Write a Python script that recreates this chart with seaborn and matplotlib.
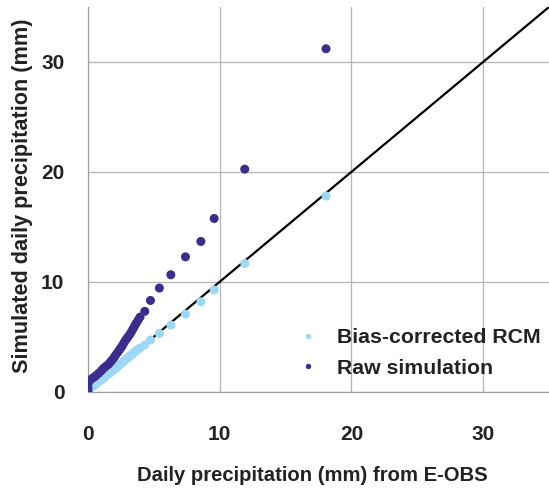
import matplotlib
matplotlib.use("Agg")
import matplotlib.pyplot as plt
import seaborn as sns
import pandas as pd

# E-OBS quantiles (shared x for both series)
obs = [0.0, 0.0, 0.0, 0.05, 0.2, 0.4, 0.6, 0.8, 1.0, 1.17, 1.35, 1.55, 1.7, 1.83,
       1.97, 2.1, 2.25, 2.38, 2.5, 2.61, 2.73, 2.86, 3.0, 3.14, 3.27, 3.4, 3.52,
       3.65, 3.8, 3.95, 4.31, 4.74, 5.42, 6.29, 7.4, 8.57, 9.58, 11.9, 18.07]
raw = [0.0, 0.3, 0.7, 1.0, 1.1, 1.28, 1.45, 1.67, 1.9, 2.12, 2.3, 2.49, 2.7, 2.88,
       3.1, 3.34, 3.57, 3.79, 4.0, 4.19, 4.45, 4.7, 4.93, 5.15, 5.4, 5.67, 5.95,
       6.21, 6.5, 6.79, 7.31, 8.3, 9.43, 10.64, 12.27, 13.67, 15.76, 20.25, 31.2]
bias = [0.0, 0.15, 0.3, 0.35, 0.4, 0.5, 0.7, 0.9, 1.05, 1.22, 1.4, 1.6, 1.75, 1.88,
        2.0, 2.13, 2.28, 2.42, 2.55, 2.66, 2.78, 2.92, 3.05, 3.2, 3.33, 3.46, 3.58,
        3.72, 3.86, 3.97, 4.25, 4.7, 5.3, 6.06, 7.06, 8.18, 9.25, 11.67, 17.8]
series_names = ["Bias-corrected RCM", "Raw simulation"]
one_to_one = [0, 35]
ticks = [0, 10, 20, 30]

df = pd.concat([
    pd.DataFrame({"obs": obs, "sim": bias, "series": series_names[0]}),
    pd.DataFrame({"obs": obs, "sim": raw, "series": series_names[1]}),
])

sns.set_style("white")
plt.rcParams["font.family"] = ["Liberation Sans", "DejaVu Sans"]

fig = plt.figure(figsize=(5.49, 4.92), dpi=100)
ax = fig.add_axes([88/549, (492-391.7)/492, 1 - 88/549, (391.7-7)/492])

ax.plot(one_to_one, one_to_one, color="black", lw=1.6, zorder=2)
sns.scatterplot(data=df, x="obs", y="sim", hue="series", hue_order=series_names,
                palette={series_names[0]: "#9dd9f6", series_names[1]: "#3b2d8e"},
                s=42, linewidth=0, ax=ax, zorder=3)

ax.set_xlim(0, 35)
ax.set_ylim(0, 35)
ax.set_xticks(ticks)
ax.set_yticks(ticks)
ax.grid(True, color="#b4b4b4", lw=0.9)
ax.set_axisbelow(True)
for s in ["top", "right"]:
    ax.spines[s].set_visible(False)
for s in ["left", "bottom"]:
    ax.spines[s].set_color("#a0a0a0")
    ax.spines[s].set_linewidth(0.9)
ax.tick_params(axis="both", direction="out", length=6, width=0.9, color="#a0a0a0",
               labelsize=15, pad=11)
ax.tick_params(axis="x", pad=18)
for lab in ax.get_xticklabels() + ax.get_yticklabels():
    lab.set_fontweight("bold")
    lab.set_color("#222222")

ax.set_xlabel("Daily precipitation (mm) from E-OBS", fontsize=14.6, fontweight="bold",
              color="#222222")
ax.set_ylabel("Simulated daily precipitation (mm)", fontsize=15.6, fontweight="bold",
              color="#222222")
ax.xaxis.set_label_coords((312-88)/461, (391.7-466)/384.7)
ax.yaxis.set_label_coords((33-88)/461, (391.7-196)/384.7)

leg = ax.legend(loc="upper left", bbox_to_anchor=(299.5/549, (492-328)/492),
                bbox_transform=fig.transFigure, frameon=False,
                prop={"size": 15.3, "weight": "bold"},
                markerscale=0.6, handlelength=0.8, handletextpad=0.96,
                labelspacing=0.55, borderpad=0, borderaxespad=0)
for t in leg.get_texts():
    t.set_color("#222222")

fig.savefig("out.png", dpi=100)
